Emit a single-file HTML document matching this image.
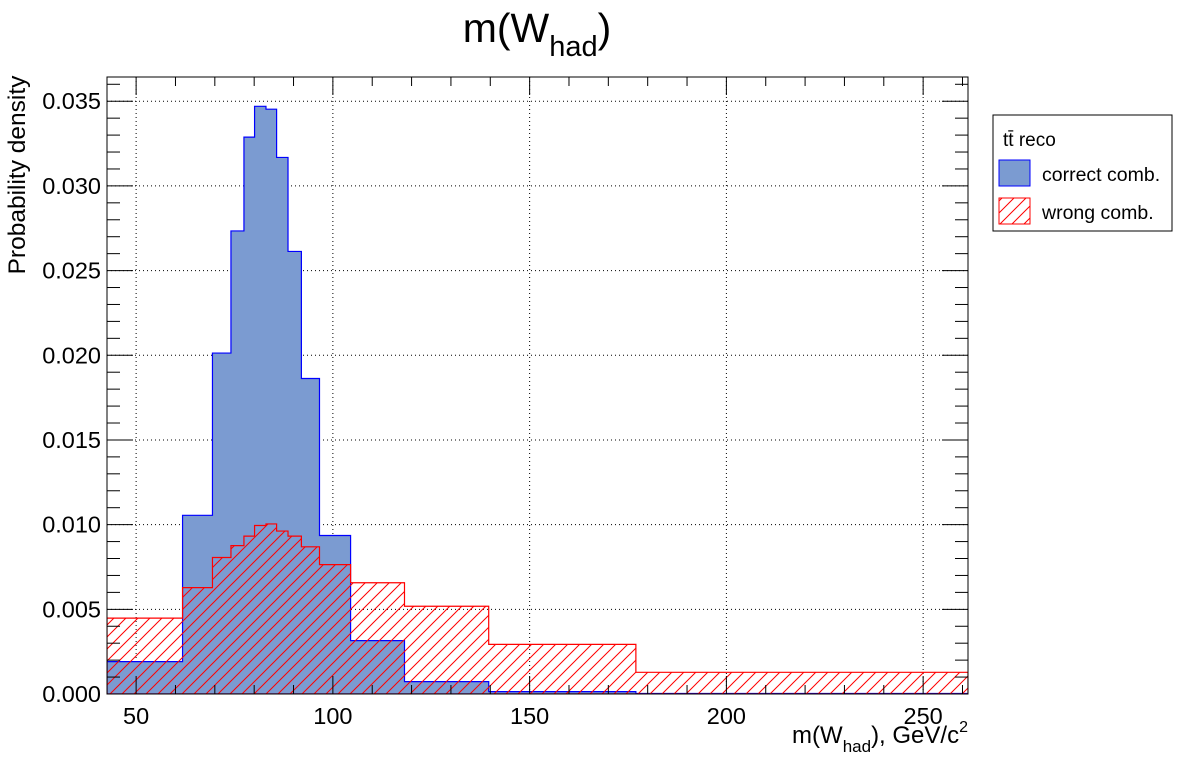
<!DOCTYPE html>
<html><head><meta charset="utf-8"><style>
html,body{margin:0;padding:0;background:#fff;}
svg text{font-family:"Liberation Sans",Arial,sans-serif;}
</style></head><body>
<svg id="chart" width="1196" height="772" xmlns="http://www.w3.org/2000/svg">
<defs>
<pattern id="hatch" patternUnits="userSpaceOnUse" width="12" height="12">
<path d="M-3,3 L3,-3 M0,12 L12,0 M9,15 L15,9" stroke="#ff0000" stroke-width="1"/>
</pattern>
<clipPath id="plotclip"><rect x="107" y="77" width="861" height="617"/></clipPath>
</defs>
<rect x="0" y="0" width="1196" height="772" fill="#fff"/>
<text x="537" y="42" font-size="41" text-anchor="middle">m(W<tspan font-size="29" dy="14">had</tspan><tspan dy="-14">)</tspan></text>
<g id="grid"></g>
<g id="bars" clip-path="url(#plotclip)"></g>
<rect x="107" y="77" width="861" height="617" fill="none" stroke="#000" stroke-width="1"/>
<g id="axes"></g>
<text transform="translate(25,175) rotate(-90)" font-size="24.5" text-anchor="middle">Probability density</text>
<text x="968" y="743" font-size="24" text-anchor="end">m(W<tspan font-size="17" dy="9">had</tspan><tspan dy="-9">), GeV/c</tspan><tspan font-size="16" dy="-11">2</tspan></text>
<g>
<rect x="993" y="115" width="179" height="116" fill="#fff" stroke="#000" stroke-width="1"/>
<text x="1003" y="146" font-size="19">tt̄ reco</text>
<rect x="999" y="160" width="31" height="26" fill="#7b9bd1" stroke="#0000ff" stroke-width="1"/>
<text x="1042" y="181" font-size="19.5">correct comb.</text>
<rect x="999" y="198" width="31" height="26" fill="url(#hatch)" stroke="#ff0000" stroke-width="1"/>
<text x="1042" y="219" font-size="19.5">wrong comb.</text>
</g>
</svg>
<script>
const binEdges = [42.6, 61.8, 69.4, 74.1, 77.4, 80.1, 83.0, 85.7, 88.6, 92.0, 96.6, 104.5, 118.2, 139.6, 177.0, 261.4];
const correctValues = [0.00191, 0.01055, 0.02013, 0.02734, 0.03288, 0.03470, 0.03453, 0.03168, 0.02613, 0.01863, 0.00936, 0.00315, 0.00073, 0.00014, 0.00003];
const wrongValues = [0.00448, 0.00628, 0.00806, 0.00876, 0.00932, 0.00995, 0.01004, 0.00962, 0.00932, 0.00869, 0.00764, 0.00657, 0.00518, 0.00293, 0.00128];
const xTickValues = [50, 100, 150, 200, 250];
const yTickValues = [0, 0.005, 0.010, 0.015, 0.020, 0.025, 0.030, 0.035];
const yTickLabels = ["0.000", "0.005", "0.010", "0.015", "0.020", "0.025", "0.030", "0.035"];

const NS = "http://www.w3.org/2000/svg";
const L = 107, R = 968, T = 77, B = 694;
const xMin = 42.6, xMax = 261.4, yMin = 0, yMax = 0.03643;
function xs(v){ return L + (v - xMin) / (xMax - xMin) * (R - L); }
function ys(v){ return B - (v - yMin) / (yMax - yMin) * (B - T); }
function mk(tag, attrs, parent){ const e = document.createElementNS(NS, tag); for (const k in attrs) e.setAttribute(k, attrs[k]); parent.appendChild(e); return e; }

const grid = document.getElementById('grid');
xTickValues.forEach(v => {
  const l = mk('line', {x1: xs(v), x2: xs(v), y1: T, y2: B, stroke: '#000', 'stroke-width': 1, 'stroke-dasharray': '1,3'}, grid);
  
  
});
yTickValues.forEach(v => {
  if (v === 0) return;
  const l = mk('line', {x1: L, x2: R, y1: ys(v), y2: ys(v), stroke: '#000', 'stroke-width': 1, 'stroke-dasharray': '1,3'}, grid);
  
  
});

function histPath(vals){
  let d = 'M' + xs(binEdges[0]) + ',' + ys(0);
  vals.forEach((v, i) => {
    d += ' L' + xs(binEdges[i]) + ',' + ys(v) + ' L' + xs(binEdges[i+1]) + ',' + ys(v);
  });
  d += ' L' + xs(binEdges[binEdges.length-1]) + ',' + ys(0) + ' Z';
  return d;
}
const bars = document.getElementById('bars');
const blue = mk('path', {d: histPath(correctValues), fill: '#7b9bd1', stroke: '#0000ff', 'stroke-width': 1.2}, bars);


const red = mk('path', {d: histPath(wrongValues), fill: 'url(#hatch)', stroke: '#ff0000', 'stroke-width': 1.2}, bars);



const axes = document.getElementById('axes');
for (let v = 50; v <= 260; v += 10) {
  const major = (v % 50 === 0);
  const len = major ? 18 : 9;
  const t1 = mk('line', {x1: xs(v), x2: xs(v), y1: B, y2: B - len, stroke: '#000'}, axes);
  
  
  const t2 = mk('line', {x1: xs(v), x2: xs(v), y1: T, y2: T + len, stroke: '#000'}, axes);
  
  
}
xTickValues.forEach(v => {
  const t = mk('text', {x: xs(v), y: 724, 'font-size': 23.5, 'text-anchor': 'middle'}, axes);
  t.textContent = String(v);
  
  
});
for (let i = 0; i <= 36; i++) {
  const v = i * 0.001;
  const major = (i % 5 === 0);
  const len = major ? 26 : 13;
  const t1 = mk('line', {x1: L, x2: L + len, y1: ys(v), y2: ys(v), stroke: '#000'}, axes);
  
  
  const t2 = mk('line', {x1: R, x2: R - len, y1: ys(v), y2: ys(v), stroke: '#000'}, axes);
  
  
}
yTickValues.forEach((v, i) => {
  const t = mk('text', {x: 101, y: ys(v) + 8, 'font-size': 23.5, 'text-anchor': 'end'}, axes);
  t.textContent = yTickLabels[i];
  
  
});
</script>
</body></html>
